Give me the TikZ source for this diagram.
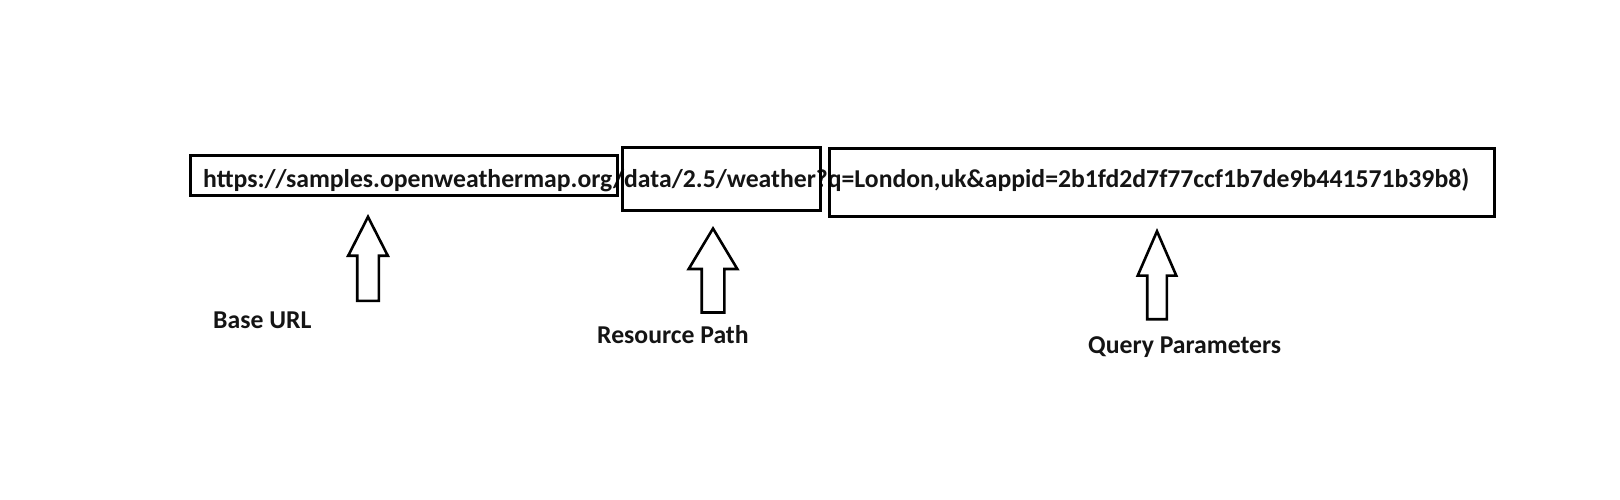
\documentclass[tikz,border=0pt]{standalone}
\usepackage{fontspec}
\setmainfont{Carlito}
\usepackage{tikz}
\usetikzlibrary{arrows.meta,positioning,shapes.arrows}
\definecolor{urlInk}{RGB}{20,20,20}

\begin{document}
\begin{tikzpicture}[x=1pt, y=-1pt, font=\fontsize{25.7}{30}\selectfont\bfseries]
\tikzstyle{segbox}=[draw=black, line width=3pt, inner sep=0pt]
\tikzstyle{uparrow}=[single arrow, draw=black, line width=2.6pt, fill=white, shape border rotate=90, anchor=tip]
\tikzstyle{tag}=[text=urlInk, inner sep=0pt, anchor=base west]

\useasboundingbox (0,0) rectangle (1620,499);

\node[tag] (url) at (203,187) {https://samples.openweathermap.org/data/2.5/weather?q=London,uk\&appid=2b1fd2d7f77ccf1b7de9b441571b39b8)};

\node[segbox, minimum width=427pt, minimum height=40pt] (baseBox) at (403.5,175) {};
\node[segbox, minimum width=198pt, minimum height=63pt] (pathBox) at (721,178.5) {};
\node[segbox, minimum width=665pt, minimum height=68pt] (queryBox) at (1161.5,182) {};

\node[uparrow, inner sep=9.5pt, minimum height=84pt, minimum width=37pt, single arrow head extend=9pt, single arrow tip angle=54] (baseArrow) at (368,214) {};
\node[uparrow, inner sep=10pt, minimum height=84pt, minimum width=46pt, single arrow head extend=13pt, single arrow tip angle=62] (pathArrow) at (713,226) {};
\node[uparrow, inner sep=8.5pt, minimum height=88pt, minimum width=36pt, single arrow head extend=9.5pt, single arrow tip angle=47] (queryArrow) at (1157,228) {};

\node[tag] (baseLabel) at (213,328) {Base URL};
\node[tag] (pathLabel) at (597,343) {Resource Path};
\node[tag] (queryLabel) at (1088,353) {Query Parameters};
\end{tikzpicture}
\end{document}
